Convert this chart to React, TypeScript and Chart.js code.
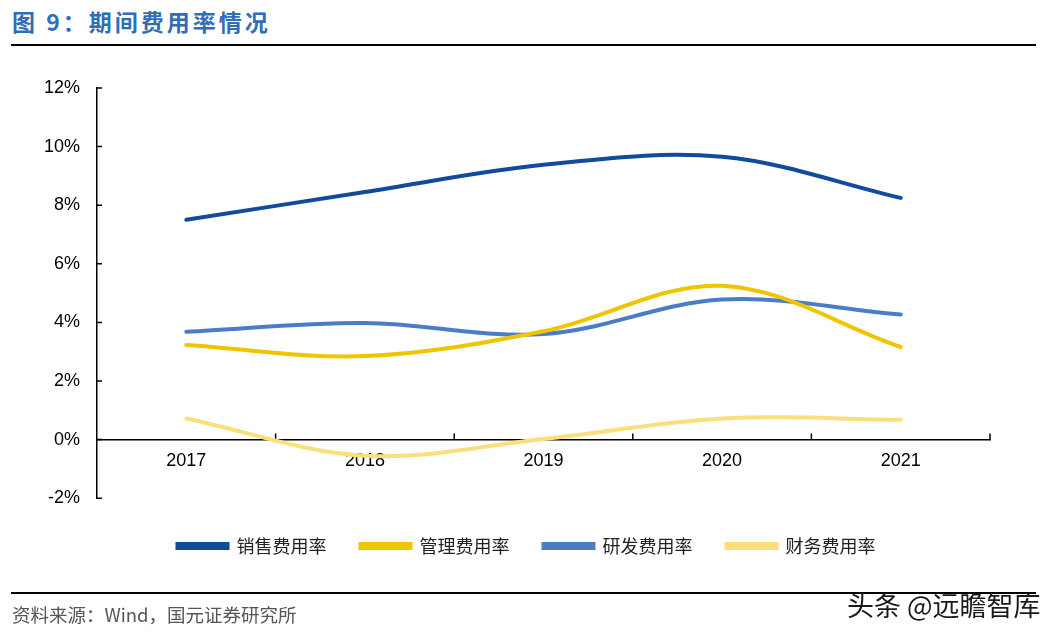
import { useEffect, useRef } from 'react';
import { Chart, registerables } from 'chart.js';
Chart.register(...registerables);

// 期间费用率（%）
const years = ['2017', '2018', '2019', '2020', '2021'];
const salesRate = [7.5, 8.45, 9.38, 9.65, 8.25];
const adminRate = [3.23, 2.85, 3.7, 5.25, 3.16];
const rdRate = [3.68, 3.98, 3.6, 4.78, 4.27];
const financeRate = [0.72, -0.55, 0.02, 0.72, 0.68];
const seriesNames = ['销售费用率', '管理费用率', '研发费用率', '财务费用率'];
const seriesColors = ['#124A9C', '#EFC500', '#4A7DC4', '#FBDF7A'];
const yMin = -2;
const yMax = 12;
const yStep = 2;

// short tick marks pointing into the plot, like the source chart
const innerTicks = {
  id: 'innerTicks',
  beforeDatasetsDraw(chart: any) {
    const { ctx, scales } = chart;
    const x = scales.x;
    const y = scales.y;
    ctx.save();
    ctx.strokeStyle = '#000';
    ctx.lineWidth = 1.5;
    ctx.beginPath();
    y.ticks.forEach((t: any) => {
      const py = y.getPixelForValue(t.value);
      ctx.moveTo(y.right, py);
      ctx.lineTo(y.right + 5, py);
    });
    const y0 = y.getPixelForValue(0);
    const half = (x.getPixelForValue(1) - x.getPixelForValue(0)) / 2;
    years.forEach((_, i) => {
      const px = x.getPixelForValue(i) + half;
      ctx.moveTo(px, y0);
      ctx.lineTo(px, y0 - 6);
    });
    ctx.stroke();
    ctx.restore();
  },
};

function ExpenseChart() {
  const ref = useRef<HTMLCanvasElement>(null);
  const ci = useRef<Chart | null>(null);

  useEffect(() => {
    const canvas = ref.current;
    if (!canvas) return;
    ci.current?.destroy();

    const values = [salesRate, adminRate, rdRate, financeRate];
    ci.current = new Chart(canvas, {
      type: 'line',
      data: {
        labels: years,
        datasets: seriesNames.map((name, i) => ({
          label: name,
          data: values[i],
          borderColor: seriesColors[i],
          backgroundColor: seriesColors[i],
          borderWidth: 4,
          borderCapStyle: 'round' as const,
          pointRadius: 0,
          tension: 0.35,
          fill: false,
        })),
      },
      plugins: [innerTicks],
      options: {
        animation: false,
        responsive: true,
        maintainAspectRatio: false,
        layout: { padding: { top: 28, right: 0, bottom: 55, left: 40 } },
        plugins: {
          tooltip: { enabled: false },
          legend: {
            position: 'bottom',
            // empty tiny title only nudges the legend row down a bit
            title: { display: true, text: ' ', padding: 0, font: { size: 4 } },
            labels: {
              boxWidth: 50,
              boxHeight: 4,
              padding: 34,
              color: '#222',
              font: { size: 18, family: '"Noto Sans CJK SC", sans-serif' },
            },
          },
        },
        scales: {
          x: {
            position: { y: 0 } as any,
            offset: true,
            grid: { display: false },
            border: { color: '#000', width: 1.5 },
            ticks: {
              color: '#000',
              padding: 3,
              font: { size: 18, family: '"Liberation Sans", Arial, sans-serif' },
            },
          },
          y: {
            min: yMin,
            max: yMax,
            grid: { display: false },
            border: { color: '#000', width: 1.5 },
            afterFit: (s: any) => { s.width = 57; },
            ticks: {
              stepSize: yStep,
              color: '#000',
              padding: 9,
              font: { size: 18, family: '"Liberation Sans", Arial, sans-serif' },
              callback: v => v + '%',
            },
          },
          // empty right gutter so the legend centres like the original
          gutter: {
            type: 'linear',
            position: 'right',
            grid: { display: false },
            border: { display: false },
            ticks: { display: false },
            afterFit: (s: any) => { s.width = 23; },
          },
        },
      },
    });

    return () => { ci.current?.destroy(); ci.current = null; };
  }, []);

  return (
    <div style={{ position: 'absolute', left: 0, top: 60, width: 1013, height: 560 }}>
      <canvas ref={ref}/>
    </div>
  );
}

export default function App() {
  return (
    <div style={{
      position: 'absolute', left: 0, top: 0, width: 1060, height: 635,
      background: '#fff', overflow: 'hidden', fontFamily: '"Noto Sans CJK SC", sans-serif',
    }}>
      {/* title */}
      <div style={{
        position: 'absolute', left: 12, top: 4, fontSize: 23, fontWeight: 700,
        letterSpacing: 3, color: '#2F6DB8', lineHeight: '34px', whiteSpace: 'nowrap',
      }}>
        图 9：期间费用率情况
      </div>
      <div style={{ position: 'absolute', left: 11, top: 44, width: 1025, height: 2, background: '#000' }}/>

      <ExpenseChart/>

      {/* footer */}
      <div style={{ position: 'absolute', left: 11, top: 592, width: 1025, height: 2, background: '#000' }}/>
      <div style={{
        position: 'absolute', left: 12, top: 600, fontSize: 18.5, color: '#555',
        lineHeight: '28px', whiteSpace: 'nowrap',
      }}>
        资料来源：Wind，国元证券研究所
      </div>
      <div style={{
        position: 'absolute', left: 847, top: 587, fontSize: 27, color: '#1a1a1a',
        lineHeight: '36px', whiteSpace: 'nowrap',
      }}>
        头条 @远瞻智库
      </div>
    </div>
  );
}
